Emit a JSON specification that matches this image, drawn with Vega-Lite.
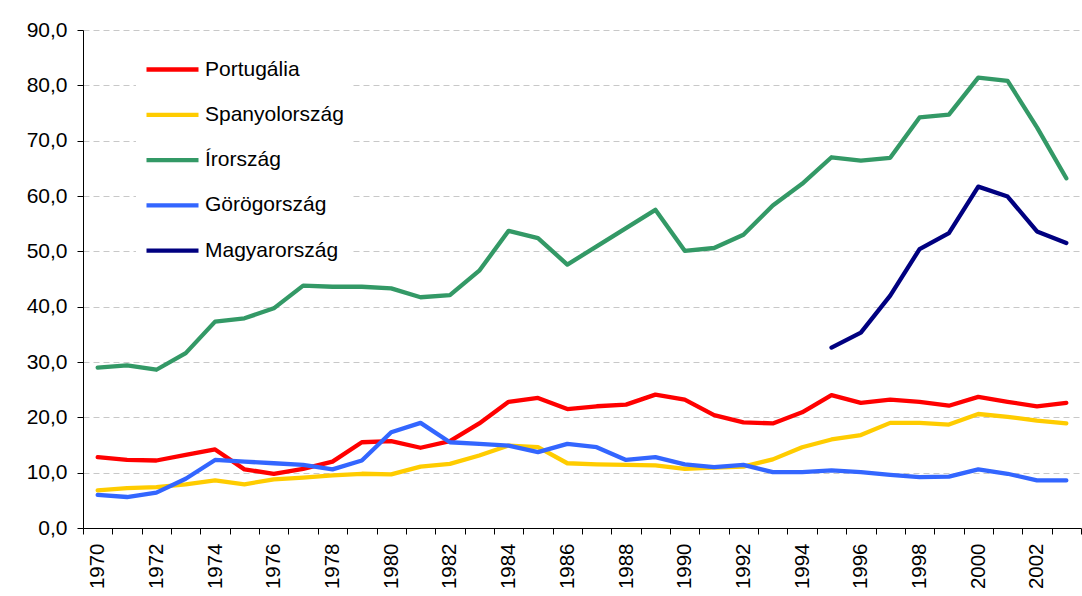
{
  "$schema": "https://vega.github.io/schema/vega-lite/v6.json",
  "width": 998,
  "height": 498,
  "autosize": {"type": "none"},
  "padding": {"left": 83, "top": 30, "right": 1, "bottom": 68},
  "background": "white",
  "config": {"view": {"stroke": null}, "font": "Liberation Sans"},
  "data": {
    "values": [
      {"year": 1970, "Portugália": 12.8, "Spanyolország": 6.8, "Írország": 29.0, "Görögország": 6.0},
      {"year": 1971, "Portugália": 12.3, "Spanyolország": 7.2, "Írország": 29.4, "Görögország": 5.6},
      {"year": 1972, "Portugália": 12.2, "Spanyolország": 7.4, "Írország": 28.6, "Görögország": 6.4},
      {"year": 1973, "Portugália": 13.2, "Spanyolország": 7.9, "Írország": 31.6, "Görögország": 8.9},
      {"year": 1974, "Portugália": 14.2, "Spanyolország": 8.6, "Írország": 37.3, "Görögország": 12.3},
      {"year": 1975, "Portugália": 10.6, "Spanyolország": 7.9, "Írország": 37.9, "Görögország": 12.0},
      {"year": 1976, "Portugália": 9.8, "Spanyolország": 8.8, "Írország": 39.7, "Görögország": 11.7},
      {"year": 1977, "Portugália": 10.7, "Spanyolország": 9.1, "Írország": 43.8, "Görögország": 11.4},
      {"year": 1978, "Portugália": 12.0, "Spanyolország": 9.5, "Írország": 43.6, "Görögország": 10.6},
      {"year": 1979, "Portugália": 15.5, "Spanyolország": 9.8, "Írország": 43.6, "Görögország": 12.2},
      {"year": 1980, "Portugália": 15.7, "Spanyolország": 9.7, "Írország": 43.3, "Görögország": 17.3},
      {"year": 1981, "Portugália": 14.5, "Spanyolország": 11.1, "Írország": 41.7, "Görögország": 19.0},
      {"year": 1982, "Portugália": 15.7, "Spanyolország": 11.6, "Írország": 42.1, "Görögország": 15.5},
      {"year": 1983, "Portugália": 18.9, "Spanyolország": 13.1, "Írország": 46.5, "Görögország": 15.2},
      {"year": 1984, "Portugália": 22.8, "Spanyolország": 14.9, "Írország": 53.7, "Görögország": 14.9},
      {"year": 1985, "Portugália": 23.5, "Spanyolország": 14.6, "Írország": 52.4, "Görögország": 13.7},
      {"year": 1986, "Portugália": 21.5, "Spanyolország": 11.7, "Írország": 47.6, "Görögország": 15.2},
      {"year": 1987, "Portugália": 22.0, "Spanyolország": 11.5, "Írország": 50.9, "Görögország": 14.6},
      {"year": 1988, "Portugália": 22.3, "Spanyolország": 11.4, "Írország": 54.2, "Görögország": 12.3},
      {"year": 1989, "Portugália": 24.1, "Spanyolország": 11.3, "Írország": 57.5, "Görögország": 12.8},
      {"year": 1990, "Portugália": 23.2, "Spanyolország": 10.7, "Írország": 50.1, "Görögország": 11.5},
      {"year": 1991, "Portugália": 20.4, "Spanyolország": 10.9, "Írország": 50.6, "Görögország": 11.0},
      {"year": 1992, "Portugália": 19.1, "Spanyolország": 11.1, "Írország": 53.0, "Görögország": 11.4},
      {"year": 1993, "Portugália": 18.9, "Spanyolország": 12.4, "Írország": 58.3, "Görögország": 10.1},
      {"year": 1994, "Portugália": 20.9, "Spanyolország": 14.6, "Írország": 62.2, "Görögország": 10.1},
      {"year": 1995, "Portugália": 24.0, "Spanyolország": 16.0, "Írország": 67.0, "Görögország": 10.4, "Magyarország": 32.6},
      {"year": 1996, "Portugália": 22.6, "Spanyolország": 16.8, "Írország": 66.4, "Görögország": 10.1, "Magyarország": 35.3},
      {"year": 1997, "Portugália": 23.2, "Spanyolország": 19.0, "Írország": 66.9, "Görögország": 9.6, "Magyarország": 42.0},
      {"year": 1998, "Portugália": 22.8, "Spanyolország": 19.0, "Írország": 74.2, "Görögország": 9.2, "Magyarország": 50.4},
      {"year": 1999, "Portugália": 22.1, "Spanyolország": 18.7, "Írország": 74.7, "Görögország": 9.3, "Magyarország": 53.3},
      {"year": 2000, "Portugália": 23.7, "Spanyolország": 20.6, "Írország": 81.4, "Görögország": 10.6, "Magyarország": 61.7},
      {"year": 2001, "Portugália": 22.8, "Spanyolország": 20.1, "Írország": 80.8, "Görögország": 9.8, "Magyarország": 59.9},
      {"year": 2002, "Portugália": 22.0, "Spanyolország": 19.4, "Írország": 72.4, "Görögország": 8.6, "Magyarország": 53.6},
      {"year": 2003, "Portugália": 22.6, "Spanyolország": 18.9, "Írország": 63.2, "Görögország": 8.6, "Magyarország": 51.5}
    ]
  },
  "transform": [
    {"fold": ["Portugália", "Spanyolország", "Írország", "Görögország", "Magyarország"], "as": ["country", "value"]}
  ],
  "mark": {"type": "line", "strokeWidth": 4.3, "strokeCap": "round", "strokeJoin": "round"},
  "encoding": {
    "x": {
      "field": "year",
      "type": "ordinal",
      "scale": {"type": "band", "paddingInner": 0, "paddingOuter": 0},
      "axis": {
        "title": null,
        "tickBand": "extent",
        "labelAngle": 270,
        "labelOverlap": false,
        "labelExpr": "datum.value % 2 == 0 ? datum.label : ''",
        "labelFontSize": 20.5,
        "labelFont": "Liberation Sans",
        "labelColor": "black",
        "labelPadding": 9,
        "tickSize": 6,
        "tickColor": "black",
        "domainColor": "black",
        "grid": false
      }
    },
    "y": {
      "field": "value",
      "type": "quantitative",
      "scale": {"domain": [0, 90], "nice": false},
      "axis": {
        "title": null,
        "values": [0, 10, 20, 30, 40, 50, 60, 70, 80, 90],
        "labelExpr": "replace(format(datum.value, '.1f'), '.', ',')",
        "labelFontSize": 21,
        "labelFont": "Liberation Sans",
        "labelColor": "black",
        "labelPadding": 10,
        "tickSize": 6,
        "tickColor": "black",
        "domainColor": "black",
        "grid": true,
        "gridColor": "#C8C8C8",
        "gridDash": [6, 4]
      }
    },
    "color": {
      "field": "country",
      "type": "nominal",
      "scale": {
        "domain": ["Portugália", "Spanyolország", "Írország", "Görögország", "Magyarország"],
        "range": ["#FF0000", "#FFCC00", "#339966", "#3366FF", "#000080"]
      },
      "legend": {
        "title": null,
        "orient": "none",
        "legendX": 53,
        "legendY": 3,
        "symbolType": "stroke",
        "symbolSize": 2704,
        "symbolStrokeWidth": 4.3,
        "labelFontSize": 21,
        "labelFont": "Liberation Sans",
        "labelColor": "black",
        "labelOffset": 4,
        "rowPadding": 6.3,
        "padding": 8,
        "fillColor": "white"
      }
    }
  }
}
